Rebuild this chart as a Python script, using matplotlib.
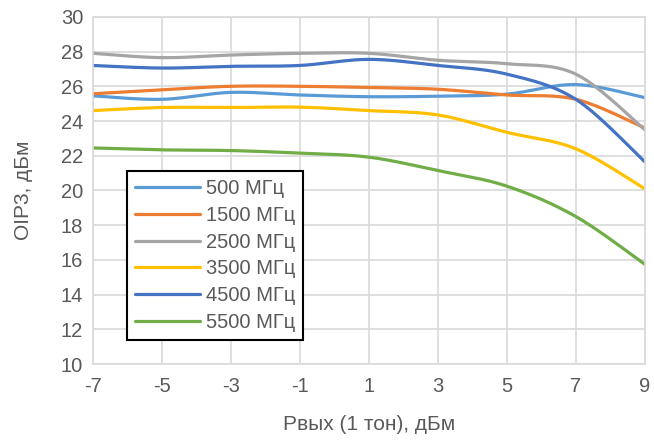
import numpy as np
import matplotlib
matplotlib.use("Agg")
import matplotlib.pyplot as plt

# data
p_out = [-7, -5, -3, -1, 1, 3, 5, 7, 9]
labels = ["500 МГц", "1500 МГц", "2500 МГц", "3500 МГц", "4500 МГц", "5500 МГц"]
oip3_500  = [25.45, 25.25, 25.65, 25.5, 25.4, 25.43, 25.55, 26.1, 25.35]
oip3_1500 = [25.57, 25.8, 26.0, 26.0, 25.93, 25.83, 25.5, 25.25, 23.6]
oip3_2500 = [27.9, 27.65, 27.8, 27.9, 27.9, 27.5, 27.3, 26.7, 23.5]
oip3_3500 = [24.6, 24.78, 24.78, 24.8, 24.6, 24.35, 23.35, 22.4, 20.1]
oip3_4500 = [27.2, 27.05, 27.15, 27.2, 27.55, 27.2, 26.7, 25.25, 21.65]
oip3_5500 = [22.45, 22.34, 22.3, 22.15, 21.92, 21.15, 20.25, 18.5, 15.75]
series = [oip3_500, oip3_1500, oip3_2500, oip3_3500, oip3_4500, oip3_5500]
colors = ["#5B9BD5", "#ED7D31", "#A5A5A5", "#FFC000", "#4472C4", "#70AD47"]


def smooth(x, y, n=30):
    # Catmull-Rom style smoothing, like Excel "smoothed line"
    x = np.asarray(x, float)
    y = np.asarray(y, float)
    xs, ys = [], []
    for i in range(len(x) - 1):
        i0 = max(i - 1, 0)
        i3 = min(i + 2, len(x) - 1)
        t = np.linspace(0, 1, n, endpoint=False)
        cx1 = x[i] + (x[i + 1] - x[i0]) / 6
        cy1 = y[i] + (y[i + 1] - y[i0]) / 6
        cx2 = x[i + 1] - (x[i3] - x[i]) / 6
        cy2 = y[i + 1] - (y[i3] - y[i]) / 6
        b0 = (1 - t) ** 3
        b1 = 3 * (1 - t) ** 2 * t
        b2 = 3 * (1 - t) * t ** 2
        b3 = t ** 3
        xs.append(b0 * x[i] + b1 * cx1 + b2 * cx2 + b3 * x[i + 1])
        ys.append(b0 * y[i] + b1 * cy1 + b2 * cy2 + b3 * y[i + 1])
    xs.append([x[-1]])
    ys.append([y[-1]])
    return np.concatenate(xs), np.concatenate(ys)


plt.rcParams["font.family"] = ["Liberation Sans", "DejaVu Sans"]
plt.rcParams["axes.unicode_minus"] = False
text_col = "#595959"
grid_col = "#D9D9D9"

fig = plt.figure(figsize=(6.54, 4.43), dpi=100)
ax = fig.add_axes([0.142, 0.178, 0.844, 0.784])

for vals, lab, col in zip(series, labels, colors):
    sx, sy = smooth(p_out, vals)
    ax.plot(sx, sy, color=col, lw=2.3, label=lab, solid_capstyle="round")

ax.set_xlim(-7, 9)
ax.set_ylim(10, 30)
ax.set_xticks(p_out)
ax.set_yticks(np.arange(10, 31, 2))
ax.grid(True, color=grid_col, lw=1.2)
ax.set_axisbelow(True)
for s in ax.spines.values():
    s.set_color(grid_col)
    s.set_linewidth(1.2)
ax.tick_params(length=0, labelsize=14.5, colors=text_col)
ax.tick_params(axis="x", pad=9)
ax.tick_params(axis="y", pad=7)
ax.set_xlabel("Pвых (1 тон), дБм", fontsize=15, color=text_col, labelpad=14)
ax.set_ylabel("OIP3, дБм", fontsize=15, color=text_col, labelpad=20)

leg = ax.legend(loc="upper left", bbox_to_anchor=(0.0625, 0.555), borderaxespad=0,
                fontsize=14.5, handlelength=3.2, handletextpad=0.3,
                labelspacing=0.38, fancybox=False, framealpha=1,
                edgecolor="black", borderpad=0.4)
leg.get_frame().set_linewidth(1.5)
for t in leg.get_texts():
    t.set_color(text_col)

fig.savefig("out.png", dpi=100)
